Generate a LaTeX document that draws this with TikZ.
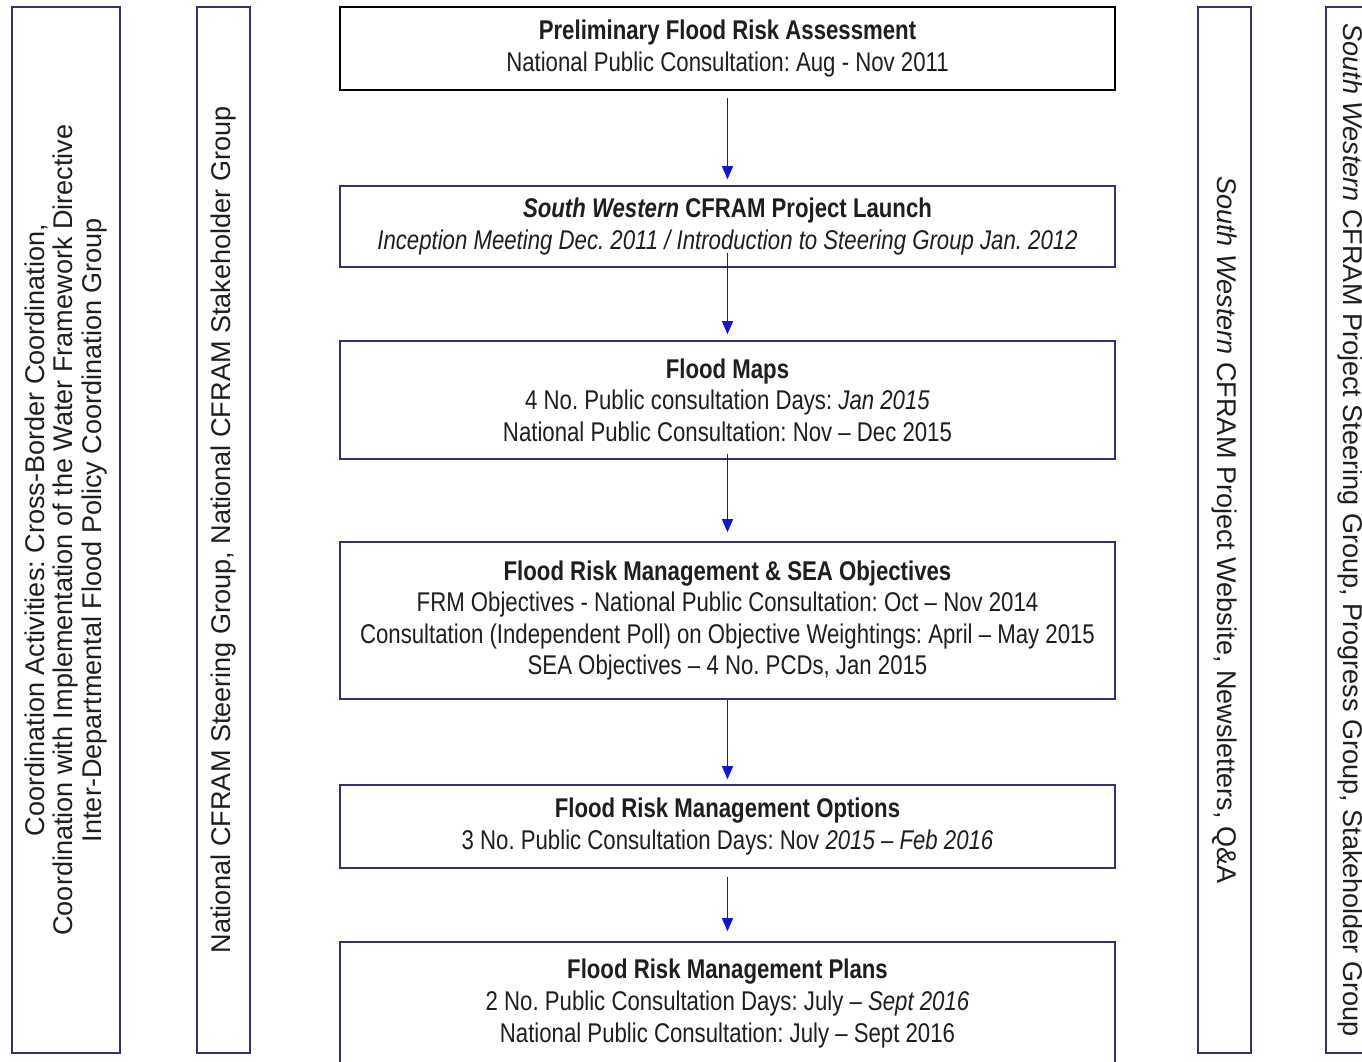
\documentclass[tikz,border=0pt]{standalone}
\usepackage{fontspec}
\setmainfont{Liberation Sans}
\newfontfamily\narrowfont[FakeStretch=0.82]{Liberation Sans}
\usetikzlibrary{arrows.meta}
\definecolor{boxline}{RGB}{50,50,115}
\definecolor{flowblue}{RGB}{20,20,200}
\definecolor{txt}{RGB}{30,30,30}
\frenchspacing

\begin{document}
\begin{tikzpicture}[
    stage/.style={draw=boxline,line width=0.9pt,minimum width=15.5cm,
      align=center,text=txt,inner sep=0pt,
      font=\narrowfont\fontsize{15.4}{18}\selectfont},
    side/.style={draw=boxline,line width=0.9pt,minimum width=20.92cm,
      align=center,text=txt,inner sep=0pt,
      font=\fontsize{15.4}{16.2}\selectfont},
    flow/.style={-{Triangle[width=0.22cm,length=0.26cm]},draw=flowblue,line width=0.7pt}]
    \path[use as bounding box,fill=white] (0,0) rectangle (27.24,-21.24);
    % side panels
    \node[side,rotate=90,minimum height=2.16cm] (coord) at (1.32,-10.6)
      {Coordination Activities: Cross-Border Coordination,\\
       Coordination with Implementation of the Water Framework Directive\\
       Inter-Departmental Flood Policy Coordination Group};
    \node[side,rotate=90,minimum height=1.06cm] (natgroup) at (4.47,-10.6)
      {National CFRAM Steering Group, National CFRAM Stakeholder Group};
    \node[side,rotate=-90,minimum height=1.06cm] (website) at (24.49,-10.6)
      {\textit{South Western} CFRAM Project Website, Newsletters, Q\&A};
    \node[side,rotate=-90,minimum height=0.96cm] (steering) at (27.0,-10.6)
      {\textit{South Western} CFRAM Project Steering Group, Progress Group, Stakeholder Group};
    % stages
    \node[stage,draw=black,minimum height=1.66cm] (pfra) at (14.55,-0.97)
      {\textbf{Preliminary Flood Risk Assessment}\\
       National Public Consultation: Aug - Nov 2011};
    \node[stage,minimum height=1.62cm] (launch) at (14.55,-4.53)
      {\textbf{\textit{South Western} CFRAM Project Launch}\\
       \textit{Inception Meeting Dec. 2011 / Introduction to Steering Group Jan. 2012}};
    \node[stage,minimum height=2.36cm] (maps) at (14.55,-8.0)
      {\textbf{Flood Maps}\\
       4 No. Public consultation Days: \textit{Jan 2015}\\
       National Public Consultation: Nov – Dec 2015};
    \node[stage,minimum height=3.14cm] (objectives) at (14.55,-12.41)
      {\textbf{Flood Risk Management \& SEA Objectives}\\
       FRM Objectives - National Public Consultation: Oct – Nov 2014\\
       Consultation (Independent Poll) on Objective Weightings: April – May 2015\\
       SEA Objectives – 4 No. PCDs, Jan 2015};
    \node[stage,minimum height=1.66cm] (options) at (14.55,-16.53)
      {\textbf{Flood Risk Management Options}\\
       3 No. Public Consultation Days: Nov \textit{2015 – Feb 2016}};
    \node[stage,minimum height=2.46cm] (plans) at (14.55,-20.07)
      {\textbf{Flood Risk Management Plans}\\
       2 No. Public Consultation Days: July – \textit{Sept 2016}\\
       National Public Consultation: July – Sept 2016};
    % flow
    \draw[flow] ([yshift=-0.14cm]pfra.south) -- ([yshift=0.12cm]launch.north);
    \draw[flow] ([yshift=0.3cm]launch.south) -- ([yshift=0.12cm]maps.north);
    \draw[flow] ([yshift=0.12cm]maps.south) -- ([yshift=0.18cm]objectives.north);
    \draw[flow] (objectives.south) -- ([yshift=0.1cm]options.north);
    \draw[flow] ([yshift=-0.16cm]options.south) -- ([yshift=0.2cm]plans.north);
\end{tikzpicture}
\end{document}
